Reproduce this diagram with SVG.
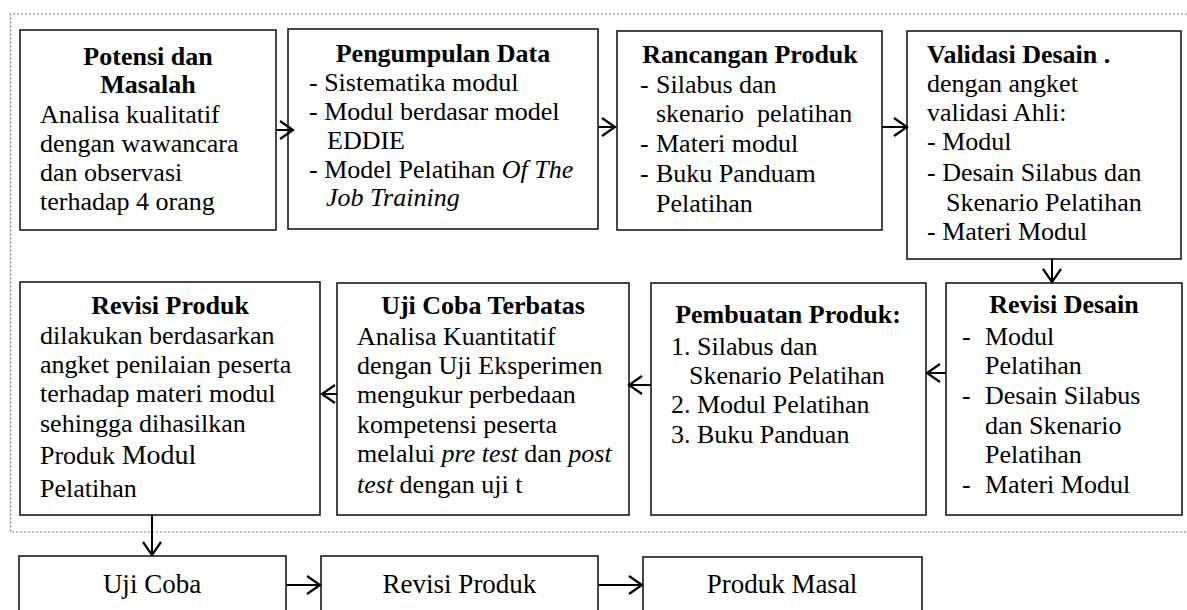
<svg xmlns="http://www.w3.org/2000/svg" width="1187" height="610" viewBox="0 0 1187 610">
<style>
.box{fill:#fff;stroke:#1a1a1a;stroke-width:1.6}
text{font-family:"Liberation Serif","Times New Roman",serif;font-size:26px;fill:#000}
.b{font-weight:bold}
.c{text-anchor:middle}
.big{font-size:27px}
.con{stroke:#000;stroke-width:2;fill:none;marker-end:url(#arr)}
.frame{fill:none;stroke:#777;stroke-width:1.2;stroke-dasharray:2 2}
</style>
<defs>
<marker id="arr" markerUnits="userSpaceOnUse" markerWidth="18" markerHeight="22" refX="14" refY="10" orient="auto" overflow="visible">
<path d="M1,1 L14,10 L1,19" fill="none" stroke="#000" stroke-width="2.2"/>
</marker>
</defs>
<rect width="1187" height="610" fill="#fff"/>
<path class="frame" d="M1195,14 H10.5 V532 H1195"/>

<g id="potensi">
<rect class="box" x="20" y="30" width="256" height="200"/>
<text class="b c" x="148" y="65">Potensi dan</text>
<text class="b c" x="148" y="93">Masalah</text>
<text x="40" y="123">Analisa kualitatif</text>
<text x="40" y="152">dengan wawancara</text>
<text x="40" y="181">dan observasi</text>
<text x="40" y="210">terhadap 4 orang</text>
</g>

<g id="pengumpulan">
<rect class="box" x="288" y="29" width="310" height="200"/>
<text class="b c" x="443" y="62">Pengumpulan Data</text>
<text x="309" y="91">- Sistematika modul</text>
<text x="309" y="120">- Modul berdasar model</text>
<text x="327" y="149">EDDIE</text>
<text x="309" y="178">- Model Pelatihan <tspan font-style="italic">Of The</tspan></text>
<text x="326" y="206" font-style="italic">Job Training</text>
</g>

<g id="rancangan">
<rect class="box" x="617" y="31" width="265" height="199"/>
<text class="b c" x="750" y="63">Rancangan Produk</text>
<text x="640" y="93">-</text><text x="656" y="93">Silabus dan</text>
<text x="656" y="122" xml:space="preserve">skenario  pelatihan</text>
<text x="640" y="152">-</text><text x="656" y="152">Materi modul</text>
<text x="640" y="182">-</text><text x="656" y="182">Buku Panduam</text>
<text x="656" y="212">Pelatihan</text>
</g>

<g id="validasi">
<rect class="box" x="907" y="31" width="274" height="228"/>
<text class="b" x="927" y="63">Validasi Desain .</text>
<text x="927" y="92">dengan angket</text>
<text x="927" y="121">validasi Ahli:</text>
<text x="927" y="150">- Modul</text>
<text x="927" y="181">- Desain Silabus dan</text>
<text x="946" y="211">Skenario Pelatihan</text>
<text x="927" y="240">- Materi Modul</text>
</g>

<g id="revisi-produk">
<rect class="box" x="20" y="282" width="300" height="233"/>
<text class="b c" x="170" y="314">Revisi Produk</text>
<text x="40" y="344">dilakukan berdasarkan</text>
<text x="40" y="373">angket penilaian peserta</text>
<text x="40" y="402">terhadap materi modul</text>
<text x="40" y="432">sehingga dihasilkan</text>
<text x="40" y="464">Produk <tspan font-size="28">Modul</tspan></text>
<text x="40" y="497">Pelatihan</text>
</g>

<g id="uji-coba-terbatas">
<rect class="box" x="337" y="283" width="292" height="232"/>
<text class="b c" x="483" y="314">Uji Coba Terbatas</text>
<text x="357" y="345">Analisa Kuantitatif</text>
<text x="357" y="374">dengan Uji Eksperimen</text>
<text x="357" y="403">mengukur perbedaan</text>
<text x="357" y="433">kompetensi peserta</text>
<text x="357" y="462">melalui <tspan font-style="italic">pre test</tspan> dan <tspan font-style="italic">post</tspan></text>
<text x="357" y="493"><tspan font-style="italic">test</tspan> dengan uji t</text>
</g>

<g id="pembuatan">
<rect class="box" x="651" y="283" width="275" height="232"/>
<text class="b c" x="788" y="323">Pembuatan Produk:</text>
<text x="671" y="355">1. Silabus dan</text>
<text x="689" y="384">Skenario Pelatihan</text>
<text x="671" y="413">2. Modul Pelatihan</text>
<text x="671" y="443">3. Buku Panduan</text>
</g>

<g id="revisi-desain">
<rect class="box" x="946" y="283" width="236" height="232"/>
<text class="b c" x="1064" y="313">Revisi Desain</text>
<text x="962" y="345">-</text><text x="985" y="345">Modul</text>
<text x="985" y="374">Pelatihan</text>
<text x="962" y="404">-</text><text x="985" y="404">Desain Silabus</text>
<text x="985" y="434">dan Skenario</text>
<text x="985" y="463">Pelatihan</text>
<text x="962" y="493">-</text><text x="985" y="493">Materi Modul</text>
</g>

<g id="uji-coba">
<rect class="box" x="19" y="556" width="267" height="70"/>
<text class="c big" x="152" y="593">Uji Coba</text>
</g>

<g id="revisi-produk-2">
<rect class="box" x="321" y="556" width="277" height="70"/>
<text class="c big" x="459.5" y="593">Revisi Produk</text>
</g>

<g id="produk-masal">
<rect class="box" x="643" y="557" width="279" height="70"/>
<text class="c big" x="782" y="593">Produk Masal</text>
</g>

<g id="connectors">
<line class="con" x1="276" y1="130" x2="293" y2="130"/>
<line class="con" x1="598" y1="127" x2="615" y2="127"/>
<line class="con" x1="882" y1="127" x2="907" y2="127"/>
<line class="con" x1="1052" y1="259" x2="1052" y2="282"/>
<line class="con" x1="946" y1="373" x2="927" y2="373"/>
<line class="con" x1="651" y1="385" x2="629" y2="385"/>
<line class="con" x1="337" y1="394" x2="322" y2="394"/>
<line class="con" x1="152" y1="515" x2="152" y2="555"/>
<line class="con" x1="286" y1="585" x2="320" y2="585"/>
<line class="con" x1="598" y1="585" x2="642" y2="585"/>
</g>
</svg>
